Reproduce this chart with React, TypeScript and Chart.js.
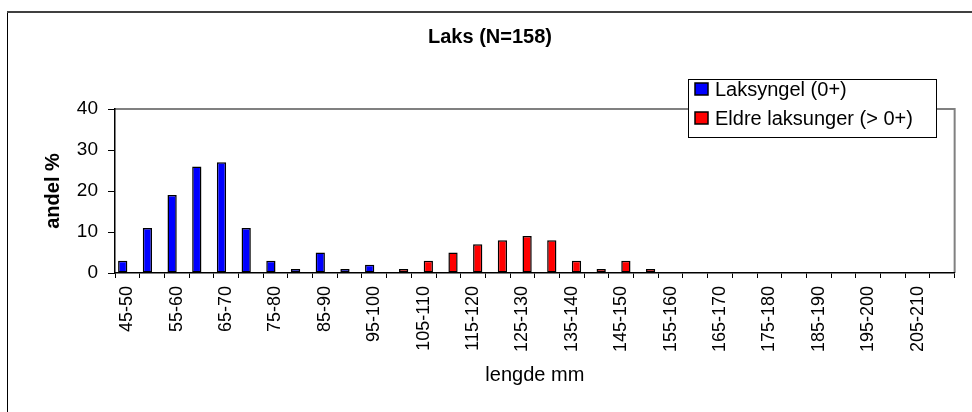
import React, { useEffect, useRef } from 'react';
import { Chart, registerables } from 'chart.js';

Chart.register(...registerables);

const categories = [
  '45-50', '50-55', '55-60', '60-65', '65-70', '70-75', '75-80', '80-85', '85-90', '90-95',
  '95-100', '100-105', '105-110', '110-115', '115-120', '120-125', '125-130', '130-135', '135-140', '140-145',
  '145-150', '150-155', '155-160', '160-165', '165-170', '170-175', '175-180', '180-185', '185-190', '190-195',
  '195-200', '200-205', '205-210', '210-215',
];

const laksyngel = [3, 11, 19, 26, 27, 11, 3, 1, 5, 1, 2, 0, 0, 0, 0, 0, 0, 0, 0, 0, 0, 0, 0, 0, 0, 0, 0, 0, 0, 0, 0, 0, 0, 0];
const eldre = [0, 0, 0, 0, 0, 0, 0, 0, 0, 0, 0, 1, 3, 5, 7, 8, 9, 8, 3, 1, 3, 1, 0, 0, 0, 0, 0, 0, 0, 0, 0, 0, 0, 0];

const seriesNames = ['Laksyngel (0+)', 'Eldre laksunger (> 0+)'];
const seriesColors = ['#0000FF', '#FF0000'];
const yTicks = [0, 10, 20, 30, 40];

const chartTitle = 'Laks (N=158)';
const yTitle = 'andel %';
const xTitle = 'lengde mm';

const FONT = "'Liberation Sans', Arial, sans-serif";

const decorPlugin = {
  id: 'decor',
  beforeDraw(chart: any) {
    const ctx = chart.ctx;
    ctx.save();
    ctx.fillStyle = '#ffffff';
    ctx.fillRect(0, 0, chart.width, chart.height);
    // outer frame
    ctx.strokeStyle = '#000000';
    ctx.lineWidth = 1;
    ctx.beginPath();
    ctx.moveTo(7.5, chart.height);
    ctx.lineTo(7.5, 12);
    ctx.stroke();
    ctx.strokeStyle = '#404040';
    ctx.lineWidth = 2;
    ctx.beginPath();
    ctx.moveTo(7, 12);
    ctx.lineTo(chart.width, 12);
    ctx.stroke();
    // title
    ctx.fillStyle = '#000';
    ctx.font = `bold 20px ${FONT}`;
    ctx.textAlign = 'center';
    ctx.textBaseline = 'middle';
    ctx.fillText(chartTitle, 490, 37);
    // plot area top and right borders
    const a = chart.chartArea;
    ctx.strokeStyle = '#808080';
    ctx.lineWidth = 2;
    ctx.beginPath();
    ctx.moveTo(a.left, a.top);
    ctx.lineTo(a.right, a.top);
    ctx.lineTo(a.right, a.bottom);
    ctx.stroke();
    ctx.restore();
  },
  afterDraw(chart: any) {
    const ctx = chart.ctx;
    ctx.save();
    const bx = 688, by = 79, bw = 248, bh = 58;
    ctx.fillStyle = '#ffffff';
    ctx.fillRect(bx, by, bw, bh);
    ctx.strokeStyle = '#000';
    ctx.lineWidth = 1;
    ctx.strokeRect(bx + 0.5, by + 0.5, bw, bh);
    ctx.font = `20px ${FONT}`;
    ctx.textAlign = 'left';
    ctx.textBaseline = 'middle';
    chart.data.datasets.forEach((ds: any, i: number) => {
      const cy = 89 + i * 29;
      ctx.fillStyle = ds.backgroundColor;
      ctx.fillRect(695, cy - 6, 13, 12);
      ctx.strokeStyle = '#000';
      ctx.lineWidth = 1.5;
      ctx.strokeRect(695, cy - 6, 13, 12);
      ctx.fillStyle = '#000';
      ctx.fillText(ds.label, 715, cy + 1);
    });
    ctx.restore();
  },
};

export default function App() {
  const ref = useRef<HTMLCanvasElement | null>(null);
  useEffect(() => {
    if (!ref.current) return;
    const chart = new Chart(ref.current, {
      type: 'bar',
      data: {
        labels: categories,
        datasets: [
          {
            label: seriesNames[0],
            data: laksyngel,
            backgroundColor: seriesColors[0],
            borderColor: '#000',
            borderWidth: 1.5,
            borderSkipped: false,
            categoryPercentage: 0.75,
            barPercentage: 1,
          },
          {
            label: seriesNames[1],
            data: eldre,
            backgroundColor: seriesColors[1],
            borderColor: '#000',
            borderWidth: 1.5,
            borderSkipped: false,
            categoryPercentage: 0.75,
            barPercentage: 1,
          },
        ],
      },
      options: {
        responsive: false,
        animation: false,
        devicePixelRatio: 1,
        layout: { padding: { left: 0, top: 109, right: 7, bottom: 0 } },
        plugins: {
          legend: { display: false },
          title: { display: false },
          tooltip: { enabled: false },
        },
        scales: {
          x: {
            grid: {
              display: true,
              drawOnChartArea: false,
              drawTicks: true,
              tickLength: 5,
              color: '#000',
              offset: true,
            },
            border: { display: true, color: '#000', width: 1.5 },
            ticks: {
              autoSkip: false,
              minRotation: 90,
              maxRotation: 90,
              padding: 8,
              color: '#000',
              font: { family: FONT, size: 18 },
              callback: (_v: any, i: number) => (i % 2 === 0 ? categories[i] : ''),
            },
            title: {
              display: true,
              text: xTitle,
              color: '#000',
              font: { family: FONT, size: 20 },
              padding: { top: 0, bottom: 25 },
            },
            afterFit: (s: any) => { s.height = 139; },
          },
          y: {
            min: 0,
            max: 40,
            grid: {
              display: true,
              drawOnChartArea: false,
              drawTicks: true,
              tickLength: 7,
              color: '#000',
            },
            border: { display: true, color: '#000', width: 1.5 },
            afterBuildTicks: (s: any) => { s.ticks = yTicks.map((v) => ({ value: v })); },
            ticks: {
              padding: 10,
              color: '#000',
              font: { family: FONT, size: 19 },
            },
            title: {
              display: true,
              text: yTitle,
              color: '#000',
              font: { family: FONT, size: 20, weight: 'bold' },
              padding: { top: 41, bottom: 0 },
            },
            afterFit: (s: any) => { s.width = 115; },
          },
        },
      },
      plugins: [decorPlugin],
    } as any);
    return () => chart.destroy();
  }, []);
  return (
    <div style={{ position: 'absolute', left: 0, top: 0, width: 972, height: 412 }}>
      <canvas ref={ref} width={972} height={412} style={{ width: 972, height: 412, display: 'block' }} />
    </div>
  );
}
